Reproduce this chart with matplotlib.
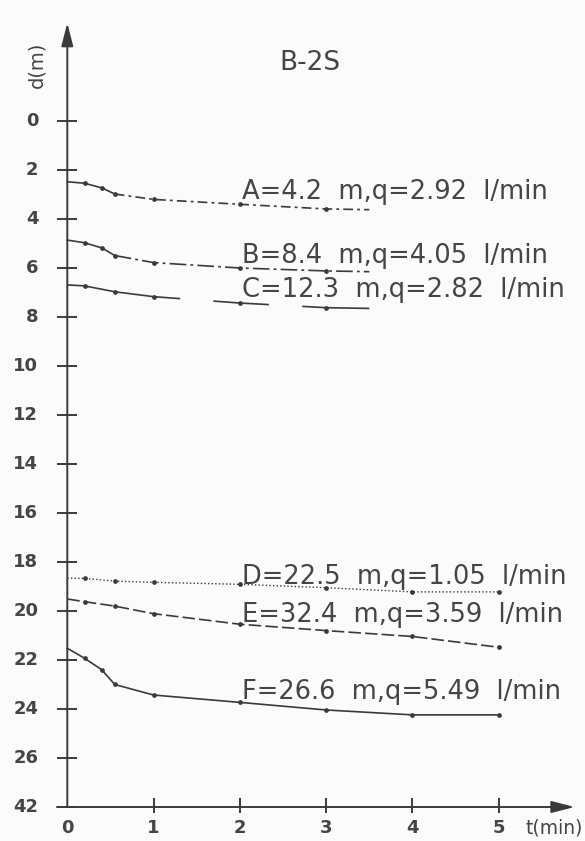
import matplotlib
matplotlib.use("Agg")
import matplotlib.pyplot as plt

plt.rcParams['font.family'] = ['DejaVu Sans']
plt.rcParams['lines.scale_dashes'] = False

# drawdown d (m) vs time t (min), well B-2S
t_A = [0, 0.2, 0.4, 0.55, 1, 2, 3, 3.5]
d_A = [2.48, 2.54, 2.73, 2.98, 3.2, 3.4, 3.59, 3.62]
t_B = [0, 0.2, 0.4, 0.55, 1, 2, 3, 3.5]
d_B = [4.86, 4.97, 5.18, 5.49, 5.78, 6.0, 6.12, 6.15]
t_C = [0, 0.2, 0.55, 1, 2, 3, 3.5]
d_C = [6.69, 6.73, 6.97, 7.17, 7.43, 7.62, 7.65]
t_D = [0, 0.2, 0.55, 1, 2, 3, 4, 5]
d_D = [18.66, 18.67, 18.78, 18.83, 18.91, 19.05, 19.22, 19.22]
t_E = [0, 0.2, 0.55, 1, 2, 3, 4, 5]
d_E = [19.51, 19.62, 19.8, 20.11, 20.54, 20.8, 21.04, 21.48]
t_F = [0, 0.2, 0.4, 0.55, 1, 2, 3, 4, 5]
d_F = [21.52, 21.93, 22.4, 23.0, 23.43, 23.73, 24.04, 24.24, 24.24]

labels = ["A=4.2  m,q=2.92  l/min", "B=8.4  m,q=4.05  l/min",
          "C=12.3  m,q=2.82  l/min", "D=22.5  m,q=1.05  l/min",
          "E=32.4  m,q=3.59  l/min", "F=26.6  m,q=5.49  l/min"]
label_d = [3.2, 5.8, 7.2, 18.9, 20.45, 23.6]

y_ticks = [0, 2, 4, 6, 8, 10, 12, 14, 16, 18, 20, 22, 24, 26, 28]
y_ticklabels = ['0', '2', '4', '6', '8', '10', '12', '14', '16', '18',
                '20', '22', '24', '26', '42']  # axis break: last tick reads 42
x_ticks = [0, 1, 2, 3, 4, 5]

ink = '#3a3a3a'
txt = '#454545'

fig = plt.figure(figsize=(5.85, 8.41), dpi=100)
fig.patch.set_facecolor('#fbfbfb')
ax = fig.add_axes([0, 0, 1, 1])
ax.set_facecolor('#fbfbfb')
ax.set_xlim(-0.78, 6.0)
ax.set_ylim(29.388, -4.939)
ax.axis('off')

# axes with arrows
arrow = dict(arrowstyle='-|>,head_length=0.7,head_width=0.18', color=ink,
             lw=1.4, mutation_scale=20, shrinkA=0, shrinkB=0)
ax.annotate('', xy=(0, -4.0), xytext=(0, 28), arrowprops=arrow)
ax.annotate('', xy=(5.88, 28), xytext=(-0.12, 28), arrowprops=arrow)

ax.hlines(y_ticks, -0.12, 0.11, color=ink, lw=1.4)
ax.vlines(x_ticks[1:], 27.64, 28.26, color=ink, lw=1.4)

for v, s in zip(y_ticks, y_ticklabels):
    ax.text(-0.335, v, s, ha='right', va='center', fontsize=13,
            color=txt, fontweight='bold')
for v in x_ticks:
    ax.text(v, 28.84, str(v), ha='center', va='center', fontsize=13,
            color=txt, fontweight='bold')
ax.text(5.315, 28.84, 't(min)', ha='left', va='center', fontsize=13.5,
        color=txt)
ax.text(-0.35, -2.29, 'd(m)', ha='center', va='center', rotation=90,
        fontsize=14, color=txt)
ax.text(2.81, -2.37, 'B-2S', ha='center', va='center', fontsize=19,
        color=txt)

mk = dict(marker='o', ms=2.4, mfc=ink, mec=ink)
lw = 1.2

# A and B: solid start, then dash-dot
k = 3
ax.plot(t_A[:k + 1], d_A[:k + 1], color=ink, lw=lw)
ax.plot(t_A[k:], d_A[k:], color=ink, lw=lw, dashes=(7, 3, 2, 3))
ax.plot(t_A[1:-1], d_A[1:-1], ls='none', **mk)
ax.plot(t_B[:k + 1], d_B[:k + 1], color=ink, lw=lw)
ax.plot(t_B[k:], d_B[k:], color=ink, lw=lw, dashes=(12, 3, 2, 3))
ax.plot(t_B[1:-1], d_B[1:-1], ls='none', **mk)

# C: long broken dashes
ax.plot(t_C, d_C, color=ink, lw=lw, dashes=(82, 24, 40, 24, 60, 10))
ax.plot(t_C[1:-1], d_C[1:-1], ls='none', **mk)

ax.plot(t_D, d_D, color=ink, lw=1.0, dashes=(1, 1.6))
ax.plot(t_D[1:], d_D[1:], ls='none', **mk)
ax.plot(t_E, d_E, color=ink, lw=lw, dashes=(9, 3))
ax.plot(t_E[1:], d_E[1:], ls='none', **mk)
ax.plot(t_F, d_F, color=ink, lw=lw)
ax.plot(t_F[1:], d_F[1:], ls='none', **mk)

for s, v in zip(labels, label_d):
    ax.text(2.03, v, s, ha='left', va='baseline', fontsize=18.5, color=txt)

fig.savefig('out.png', dpi=100, facecolor=fig.get_facecolor())
